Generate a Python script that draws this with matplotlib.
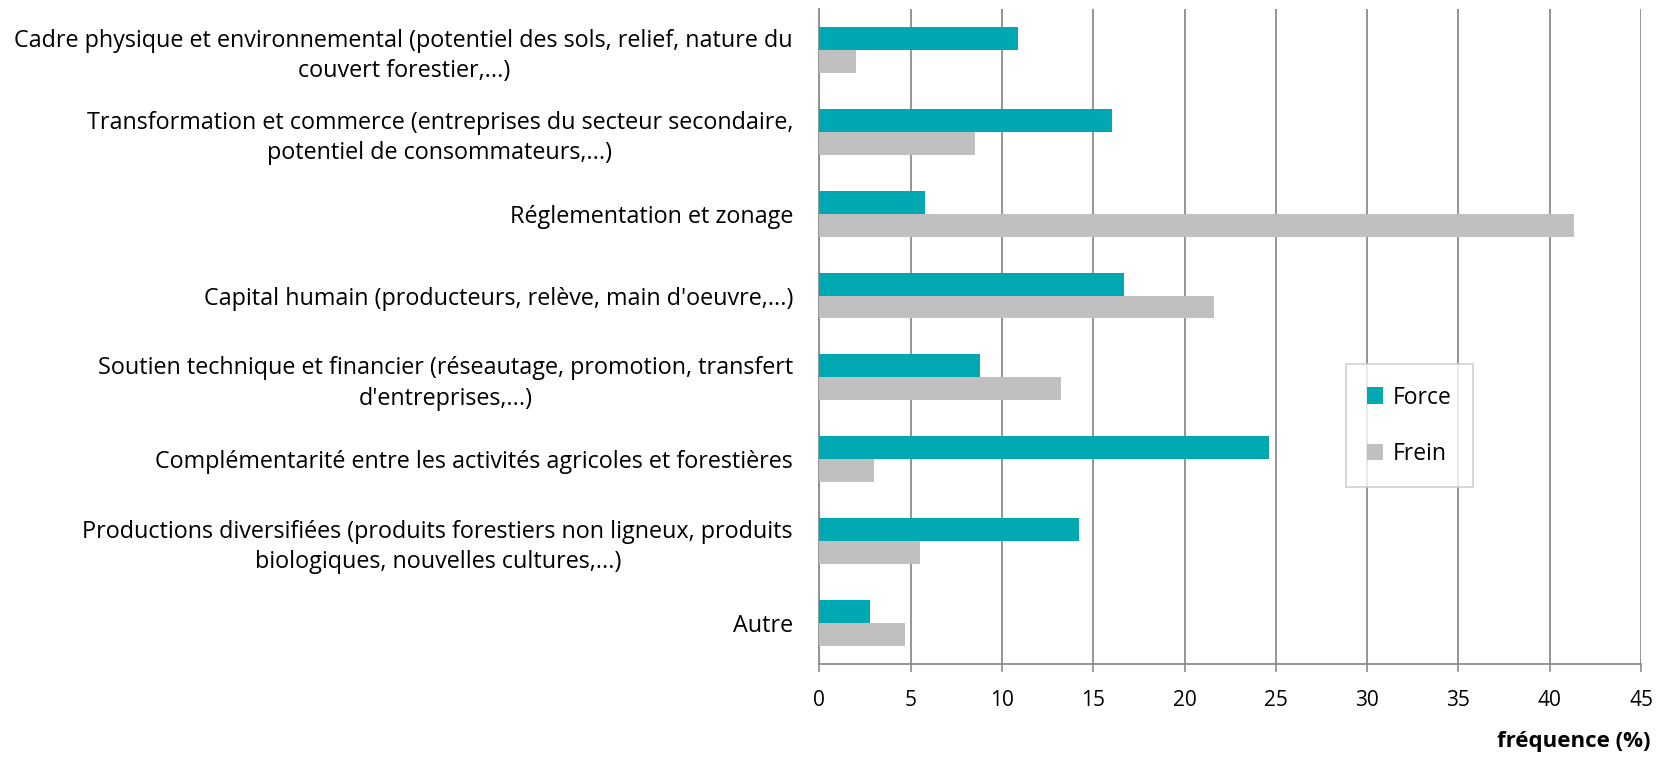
import numpy as np
import matplotlib
matplotlib.use('Agg')
import matplotlib.pyplot as plt

# data
categories = ['Cadre physique et environnemental (potentiel des sols, relief, nature du\ncouvert forestier,...)',
              'Transformation et commerce (entreprises du secteur secondaire,\npotentiel de consommateurs,...)',
              'Réglementation et zonage',
              "Capital humain (producteurs, relève, main d'oeuvre,...)",
              "Soutien technique et financier (réseautage, promotion, transfert\nd'entreprises,...)",
              'Complémentarité entre les activités agricoles et forestières',
              'Productions diversifiées (produits forestiers non ligneux, produits\nbiologiques, nouvelles cultures,...)',
              'Autre']
force = [10.9, 16.0, 5.8, 16.7, 8.8, 24.6, 14.2, 2.8]
frein = [2.0, 8.5, 41.35, 21.6, 13.25, 3.0, 5.5, 4.7]
xticks = [0, 5, 10, 15, 20, 25, 30, 35, 40, 45]

plt.rcParams['font.family'] = 'Open Sans'

fig = plt.figure(figsize=(16.79, 7.57), dpi=100)
ax = fig.add_axes([0.488, 0.1229, 0.4894, 0.8652])

y = np.arange(len(categories))
h = 0.28
ax.barh(y - h/2, force, height=h, color='#00A9B1', label='Force', zorder=3)
ax.barh(y + h/2, frein, height=h, color='#C0C0C0', label='Frein', zorder=3)

ax.set_ylim(len(categories) - 0.5, -0.5)
ax.set_xlim(0, 45)
ax.set_xticks(xticks)
ax.set_yticks(y)
ax.set_yticklabels(categories, fontsize=16.8, multialignment='center', linespacing=1.35)
ax.tick_params(axis='y', length=0, pad=19)
ax.tick_params(axis='x', length=5.5, color='#8c8c8c', width=1.2, labelsize=15, pad=13)
ax.xaxis.grid(True, color='#8c8c8c', linewidth=1.3, zorder=0)

for s in ['top', 'right']:
    ax.spines[s].set_visible(False)
ax.spines['left'].set_color('#8c8c8c')
ax.spines['bottom'].set_color('#8c8c8c')
ax.spines['left'].set_linewidth(1.3)
ax.spines['bottom'].set_linewidth(1.3)

fig.text(0.983, 0.021, 'fréquence (%)', ha='right', va='center', fontsize=16, fontweight='bold')

leg = ax.legend(loc='center', bbox_to_anchor=(0.718, 0.364),
                fontsize=16.5, frameon=True, fancybox=False, handlelength=0.7, handleheight=0.7,
                labelspacing=1.4, borderpad=0.95, handletextpad=0.4, borderaxespad=0)
leg.get_frame().set_edgecolor('#c8c8c8')
leg.get_frame().set_linewidth(1.3)

fig.savefig('out.png', dpi=100)
